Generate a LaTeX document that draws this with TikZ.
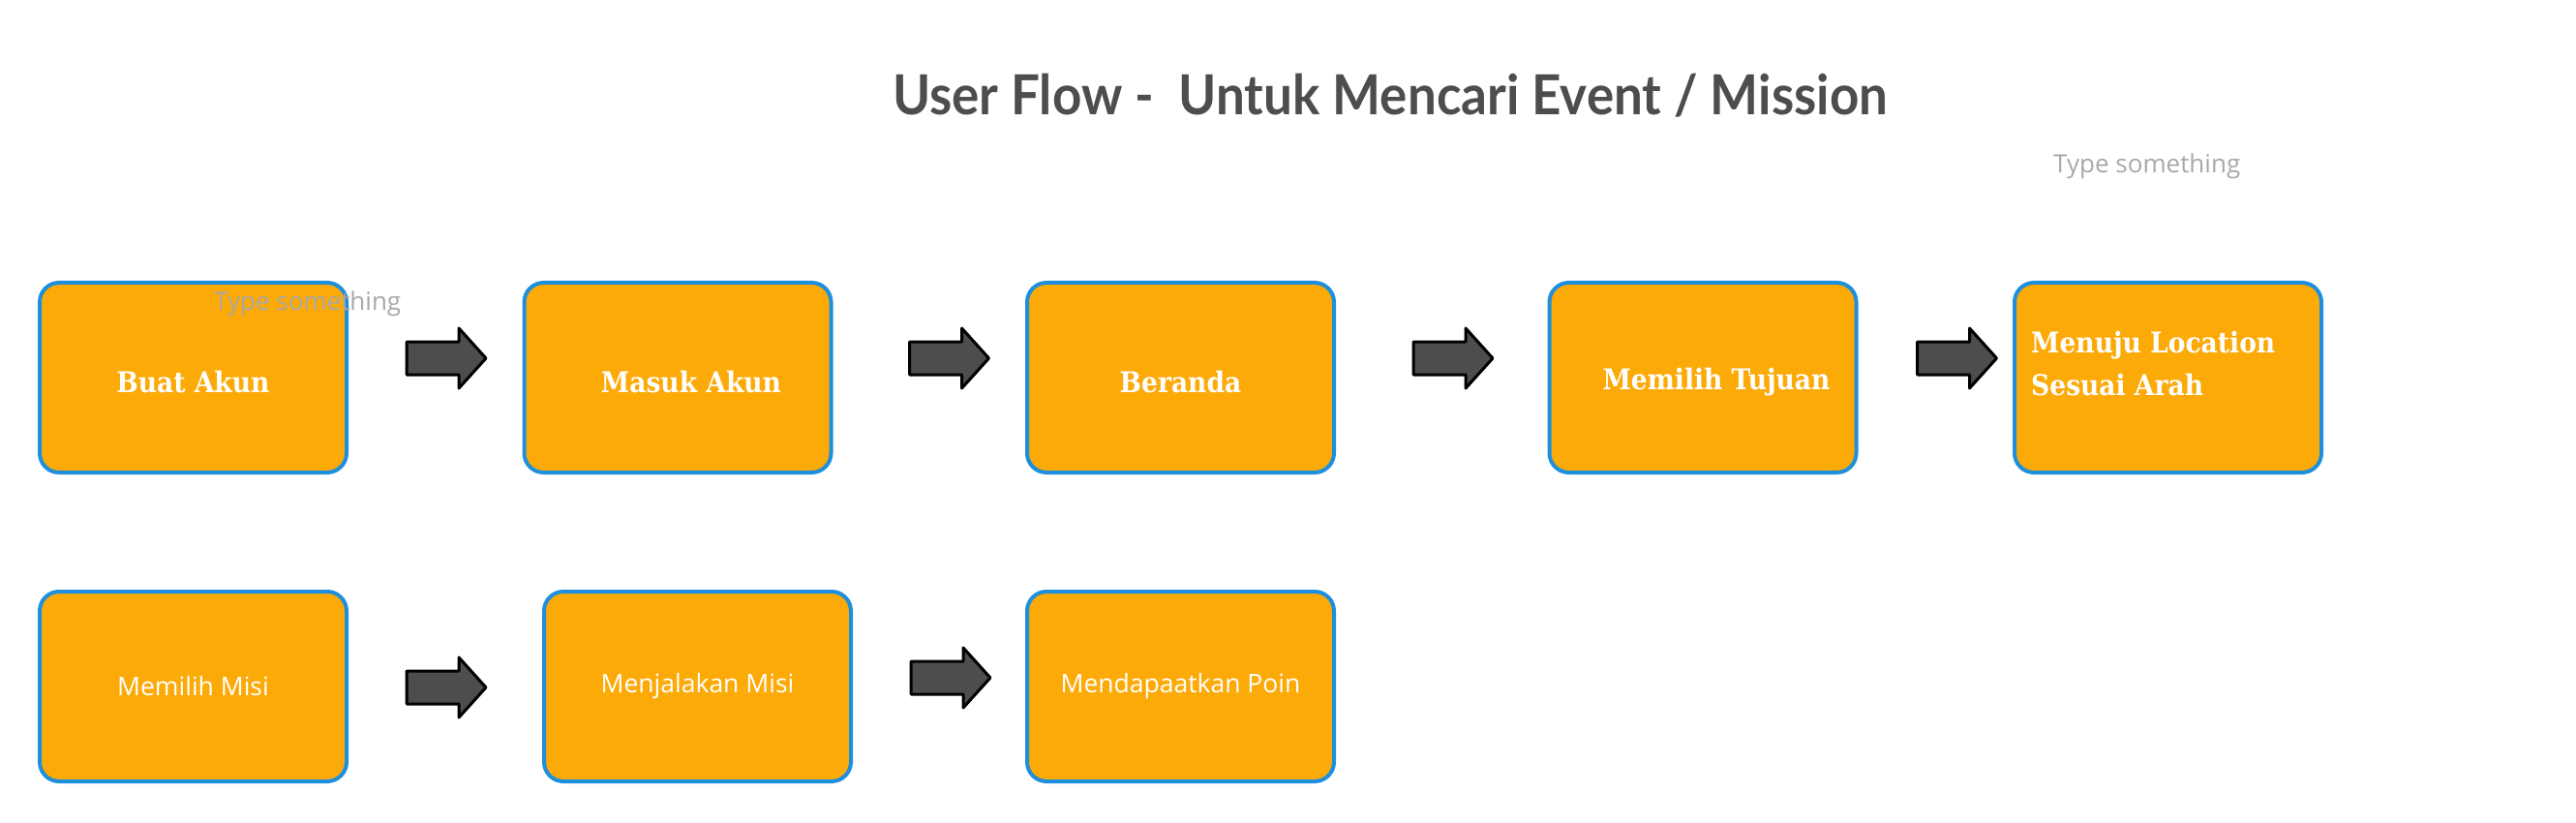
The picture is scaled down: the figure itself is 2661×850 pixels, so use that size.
\documentclass[tikz,border=0pt]{standalone}
\usepackage{fontspec}
\usepackage{graphicx}
\usetikzlibrary{calc}
\newfontfamily\titlefont{Lato}
\newfontfamily\slabfont{DejaVu Serif Condensed}
\newfontfamily\plainsans{Open Sans}
\definecolor{boxorange}{HTML}{FCAA08}
\definecolor{boxblue}{HTML}{1E8FDD}
\definecolor{titlegray}{HTML}{4D4D4D}
\definecolor{arrowgray}{HTML}{4D4D4D}
\definecolor{hintgray}{HTML}{A8A8A8}
\newcommand{\slablower}[1]{\raisebox{-5pt}[\height][\depth]{#1}}
\tikzset{
  flowbox/.style={draw=boxblue, fill=boxorange, line width=4pt, rounded corners=20pt,
    minimum width=317pt, minimum height=196pt, inner sep=0pt, text=white},
  slabtext/.style={font=\slabfont\bfseries\fontsize{29.5}{44}\selectfont},
  sanstext/.style={font=\plainsans\fontsize{26.5}{30}\selectfont},
  hinttext/.style={font=\plainsans\fontsize{26}{30}\selectfont, text=hintgray, inner sep=0pt, anchor=base west},
  blockarrow/.pic={
    \filldraw[fill=arrowgray, draw=black, line width=3pt, line join=round]
      (0,-17) -- (54,-17) -- (54,-31) -- (82,0) -- (54,31) -- (54,17) -- (0,17) -- cycle;
  }
}
\begin{document}
\begin{tikzpicture}[x=1pt, y=-1pt]
\useasboundingbox (0,0) rectangle (2661,850);
\node[font=\titlefont\bfseries\fontsize{57}{64}\selectfont, text=titlegray, anchor=base, inner sep=0pt]
  (title) at (1436,119) {\resizebox{1028pt}{\height}{User Flow -\ \ Untuk Mencari Event / Mission}};
\node[hinttext] (hint2) at (2121,179) {Type something};

\node[flowbox, slabtext] (b1) at (199.5,390) {\slablower{Buat Akun}};
\node[flowbox, slabtext] (b2) at (700,390) {\slablower{\hspace*{28pt}Masuk Akun}};
\node[flowbox, slabtext] (b3) at (1219.5,390) {\slablower{Beranda}};
\node[flowbox, slabtext] (b4) at (1759,390) {\slablower{\hspace*{28pt}Memilih Tujuan}};
\node[flowbox] (b5) at (2239.5,390) {};
\node[slabtext, text=white, align=left, anchor=base west, inner sep=0pt] (t5)
  at ($(b5.west)+(19,18)$) {Menuju Location\\Sesuai Arah};

\node[flowbox, sanstext] (b6) at (199.5,709) {Memilih Misi};
\node[flowbox, sanstext] (b7) at (720.5,709) {Menjalakan Misi};
\node[flowbox, sanstext] (b8) at (1219.5,709) {Mendapaatkan Poin};

\node[hinttext] (hint1) at (221,320) {Type something};

\path ($(b1.east)+(60,-20)$) pic {blockarrow};
\path ($(b2.east)+(79,-20)$) pic {blockarrow};
\path ($(b3.east)+(80,-20)$) pic {blockarrow};
\path ($(b4.east)+(61,-20)$) pic {blockarrow};
\path ($(b6.east)+(60,1)$) pic {blockarrow};
\path ($(b7.east)+(60,-9)$) pic {blockarrow};
\end{tikzpicture}
\end{document}
